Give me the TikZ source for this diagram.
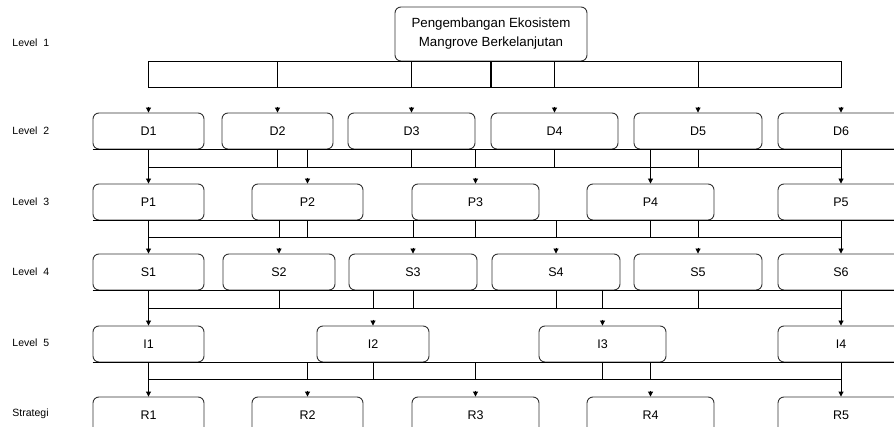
\documentclass[tikz,border=0pt]{standalone}
\usepackage{fontspec}
\setmainfont{Liberation Sans}
\usetikzlibrary{arrows.meta}

\begin{document}
\begin{tikzpicture}[x=1pt, y=-1pt, line width=0.9pt, >={Triangle[width=5pt,length=5pt]},
  box/.style={draw=black!80, rounded corners=6pt, minimum height=36pt, inner sep=0pt, font=\fontsize{12.5}{15}\selectfont},
  lvl/.style={anchor=west, inner sep=0pt, font=\fontsize{10.5}{12}\selectfont},
  tip/.style={->, shorten <=0pt}]
  \useasboundingbox (0,0) rectangle (894,427);

  % level labels
  \node[lvl] (l1) at (12,43) {Level~~1};
  \node[lvl] (l2) at (12,131) {Level~~2};
  \node[lvl] (l3) at (12,202) {Level~~3};
  \node[lvl] (l4) at (12,272) {Level~~4};
  \node[lvl] (l5) at (12,343) {Level~~5};
  \node[lvl] (l6) at (12,414) {Strategi};

  % boxes
  \node[box, minimum width=192pt, minimum height=54pt, align=center, font=\fontsize{13.3}{19}\selectfont] (root) at (491,34) {Pengembangan Ekosistem\\Mangrove Berkelanjutan};
  \foreach \n/\x/\w in {1/148.5/111, 2/277.5/111, 3/411.5/127, 4/554.5/127, 5/698/128, 6/841/126}
    \node[box, minimum width=\w pt] (d\n) at (\x,131) {D\n};
  \foreach \n/\x/\w in {1/148.5/111, 2/307.5/111, 3/475.5/127, 4/650.5/127, 5/841/126}
    \node[box, minimum width=\w pt] (p\n) at (\x,202) {P\n};
  \foreach \n/\x/\w in {1/148.5/111, 2/279/112, 3/413/128, 4/556/128, 5/698/128, 6/841/126}
    \node[box, minimum width=\w pt] (s\n) at (\x,272) {S\n};
  \foreach \n/\x/\w in {1/148.5/111, 2/373/112, 3/602.5/127, 4/841/126}
    \node[box, minimum width=\w pt] (i\n) at (\x,344) {I\n};
  \foreach \n/\x/\w in {1/148.5/111, 2/307.5/111, 3/475.5/127, 4/650.5/127, 5/841/126}
    \node[box, minimum width=\w pt] (r\n) at (\x,415) {R\n};

  % bus coordinates
  \coordinate (bus1) at (0,87);
  \coordinate (bus2) at (0,167);
  \coordinate (bus3) at (0,237);
  \coordinate (bus4) at (0,308);
  \coordinate (bus5) at (0,379);

  % level 1 -> 2
  \draw (root.south -| d1) rectangle (bus1 -| d6);
  \foreach \k in {d2,d3,d4,d5}
    \draw (root.south -| \k) -- (bus1 -| \k);
  \draw[line width=1.3pt] (root.south) -- (bus1 -| root);
  \foreach \k in {d1,d2,d3,d4,d5,d6}
    \draw[tip] ([yshift=6pt]\k.north) -- (\k.north);

  % level 2 -> 3
  \draw (d1.south west) -- (d6.south east);
  \draw (bus2 -| d1) -- (bus2 -| d6);
  \foreach \k in {d2,d3,d4,d5,p2,p3}
    \draw (d1.south -| \k) -- (bus2 -| \k);
  \draw[->] (d1) -- (p1);
  \draw[->] (d6) -- (p5);
  \draw[->] (d5.south -| p4) -- (p4.north);
  \foreach \k in {p2,p3}
    \draw[tip] ([yshift=6pt]\k.north) -- (\k.north);

  % level 3 -> 4
  \draw (p1.south west) -- (p5.south east);
  \draw (bus3 -| p1) -- (bus3 -| p5);
  \foreach \k in {p2,p3,p4,s2,s3,s4,s5}
    \draw (p1.south -| \k) -- (bus3 -| \k);
  \draw[->] (p1) -- (s1);
  \draw[->] (p5) -- (s6);
  \foreach \k in {s2,s3,s4,s5}
    \draw[tip] ([yshift=6pt]\k.north) -- (\k.north);

  % level 4 -> 5
  \draw (s1.south west) -- (s6.south east);
  \draw (bus4 -| s1) -- (bus4 -| s6);
  \foreach \k in {s2,s3,s4,s5,i2,i3}
    \draw (s1.south -| \k) -- (bus4 -| \k);
  \draw[->] (s1) -- (i1);
  \draw[->] (s6) -- (i4);
  \foreach \k in {i2,i3}
    \draw[tip] ([yshift=6pt]\k.north) -- (\k.north);

  % level 5 -> strategi
  \draw (i1.south west) -- (i4.south east);
  \draw (bus5 -| i1) -- (bus5 -| i4);
  \foreach \k in {i2,i3,r2,r3,r4}
    \draw (i1.south -| \k) -- (bus5 -| \k);
  \draw[->] (i1) -- (r1);
  \draw[->] (i4) -- (r5);
  \foreach \k in {r2,r3,r4}
    \draw[tip] ([yshift=6pt]\k.north) -- (\k.north);
\end{tikzpicture}
\end{document}
